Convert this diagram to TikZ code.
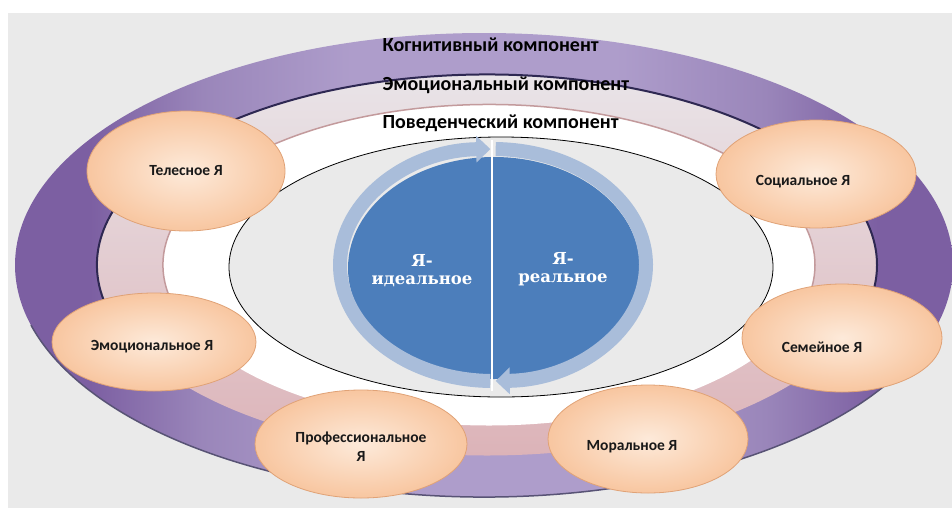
\documentclass[tikz,border=0pt]{standalone}
\usepackage{fontspec}
\setmainfont{Carlito}
\newfontfamily\blueserif{DejaVu Serif}
\usepackage{tikz}
\usetikzlibrary{shapes.geometric,arrows.meta}
\definecolor{bggray}{HTML}{EAEAEA}
\definecolor{purpledark}{HTML}{7C5FA2}
\definecolor{purplemid}{HTML}{9A86BA}
\definecolor{purplelight}{HTML}{AE9DCB}
\definecolor{ringpink}{HTML}{DCB3B8}
\definecolor{ringpale}{HTML}{E9E4E8}
\definecolor{navyline}{HTML}{2E2852}
\definecolor{pinkline}{HTML}{C39A9C}
\definecolor{bluedark}{HTML}{4C7EBB}
\definecolor{bluelight}{HTML}{A9BDDA}
\definecolor{peachin}{HTML}{FDEADA}
\definecolor{peachout}{HTML}{F8C6A0}
\definecolor{peachline}{HTML}{E0A276}
\pgfdeclarehorizontalshading{purplering}{100bp}{
	color(0bp)=(purpledark); color(25bp)=(purpledark); color(29bp)=(purpledark);
	color(35bp)=(purplemid); color(43bp)=(purplelight); color(57bp)=(purplelight);
	color(65bp)=(purplemid); color(71bp)=(purpledark); color(100bp)=(purpledark)}
\def\cy{265}
\tikzset{
	self/.style={
		ellipse,
		shade,
		inner color=peachin,
		outer color=peachout,
		draw=peachline,
		line width=0.8pt,
		inner sep=0pt,
		minimum width=200pt,
		minimum height=108pt,
	},
	selflabel/.style={
		font=\fontsize{15.5}{19}\selectfont\bfseries,
		text=black!90,
		align=center,
	},
	comp/.style={
		font=\fontsize{20}{22}\selectfont\bfseries,
		text=black,
		anchor=west,
	},
	ideal/.style={
		font=\blueserif\fontsize{16.5}{18}\selectfont\bfseries,
		text=white,
		align=center,
	},
	ring/.style={
		line width=14pt,
		draw=bluelight,
	},
}

\begin{document}
\begin{tikzpicture}[x=1pt, y=-1pt]
	\useasboundingbox (0,0) rectangle (952,509);
	\fill[bggray] (8,13) rectangle (952,508);
	\begin{scope}
		\clip (8,13) rectangle (952,508);
		% rings
		\shade[shading=purplering] (484,\cy) ellipse [x radius=469, y radius=232];
		\draw[navyline!80, line width=1.5pt] (484,\cy) ++(15:469 and 232) arc[start angle=15, end angle=165, x radius=469, y radius=232];
		\shade[top color=ringpale, bottom color=ringpink] (487,\cy) ellipse [x radius=390, y radius=190.5];
		\draw[navyline, line width=2pt] (487,\cy) ++(165:390 and 190.5) arc[start angle=165, end angle=375, x radius=390, y radius=190.5];
		\fill[white] (489,\cy) ellipse [x radius=326, y radius=160.5];
		\draw[pinkline, line width=1.5pt] (489,\cy) ++(165:326 and 160.5) arc[start angle=165, end angle=375, x radius=326, y radius=160.5];
		\filldraw[fill=bggray, draw=black, line width=0.8pt] (501,267) ellipse [x radius=272, y radius=130];
	\end{scope}

	% ideal / real
	\fill[bluedark] (494,268) ellipse [x radius=146, y radius=111];
	\draw[ring, -{Triangle[width=26pt, length=14pt]}] (493,\cy) ++(91:153 and 116) arc[start angle=91, end angle=269, x radius=153, y radius=116];
	\draw[ring, -{Triangle[width=26pt, length=14pt]}] (493,\cy) ++(271:153 and 116) arc[start angle=271, end angle=449, x radius=153, y radius=116];
	\coordinate (divtop) at (492,140);
	\coordinate (divbot) at (492,391);
	\draw[white, line width=2pt] (divtop) -- (divbot);
	\node[ideal] (ideal) at (422,271) {Я-\\идеальное};
	\node[ideal] (real) at (563,269) {Я-\\реальное};

	\node[comp] (cognitive) at (379,45) {Когнитивный компонент};
	\node[comp] (emotional) at (379,85) {Эмоциональный компонент};
	\node[comp] (behaviour) at (379,123) {Поведенческий компонент};

	% selves
	\node[self, minimum width=198pt, minimum height=120pt, label={[selflabel]center:Телесное Я}] (body) at (186,171) {};
	\node[self, label={[selflabel, xshift=-13pt, yshift=-8pt]center:Социальное Я}] (social) at (816,174) {};
	\node[self, minimum width=204pt, minimum height=98pt, label={[selflabel, xshift=-2pt, yshift=-5pt]center:Эмоциональное Я}] (emo) at (154,342) {};
	\node[self, minimum width=212pt, label={[selflabel, yshift=-3pt]center:Профессиональное\\Я}] (prof) at (361,444) {};
	\node[self, label={[selflabel, xshift=-16pt, yshift=-8pt]center:Моральное Я}] (moral) at (648,439) {};
	\node[self, label={[selflabel, xshift=-20pt, yshift=-9pt]center:Семейное Я}] (family) at (842,338) {};
\end{tikzpicture}
\end{document}
